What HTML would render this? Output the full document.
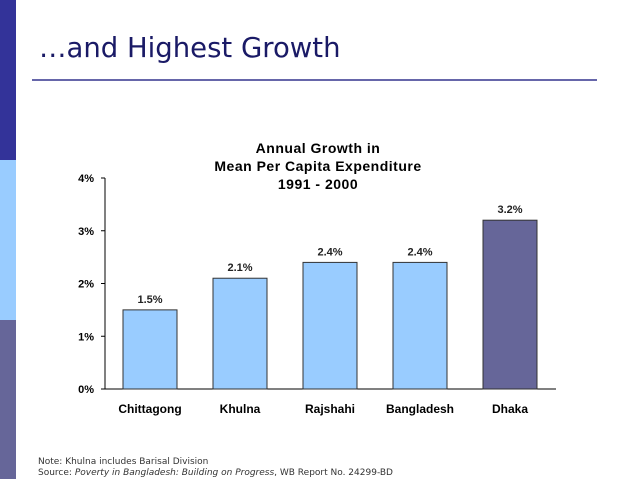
<!DOCTYPE html>
<html><head><meta charset="utf-8"><style>
body{margin:0;width:638px;height:479px;overflow:hidden;background:#fff;font-family:"Liberation Sans",sans-serif;position:relative}
.abs{position:absolute}
</style></head><body>
<div class="abs" style="left:0;top:0;width:16px;height:160px;background:#333399"></div>
<div class="abs" style="left:0;top:160px;width:16px;height:160px;background:#99ccff"></div>
<div class="abs" style="left:0;top:320px;width:16px;height:159px;background:#666699"></div>
<div class="abs" style="left:39px;top:32px;font-family:'DejaVu Sans',sans-serif;font-size:27.5px;color:#1a1a66">…and Highest Growth</div>
<div class="abs" style="left:32px;top:79px;width:565px;height:2px;background:#6666aa"></div>
<svg class="abs" style="left:0;top:0" width="638" height="479">
<g font-family="Liberation Sans, sans-serif" font-weight="bold" font-size="14" letter-spacing="0.5" text-anchor="middle" fill="#000">
<text x="318" y="153">Annual Growth in</text>
<text x="318" y="171">Mean Per Capita Expenditure</text>
<text x="318" y="189">1991 - 2000</text>
</g>
<g id="chart"></g>
</svg>
<div class="abs" style="left:38px;top:457px;font-family:'DejaVu Sans',sans-serif;font-size:9px;color:#333;line-height:11px">Note: Khulna includes Barisal Division<br>Source: <i>Poverty in Bangladesh: Building on Progress</i>, WB Report No. 24299-BD</div>
<script>
const categories=["Chittagong","Khulna","Rajshahi","Bangladesh","Dhaka"];
const values=[1.5,2.1,2.4,2.4,3.2];
const valueLabels=["1.5%","2.1%","2.4%","2.4%","3.2%"];
const ticks=[0,1,2,3,4];
const tickLabels=["0%","1%","2%","3%","4%"];
const NS="http://www.w3.org/2000/svg";
const g=document.getElementById('chart');
const y0=389,pxPer=52.75,axisX=105,slot=90,barW=54,firstX=123;
const yS=v=>y0-v*pxPer;
const xS=i=>firstX+i*slot;
function mk(t,a){const e=document.createElementNS(NS,t);for(const k in a)e.setAttribute(k,a[k]);g.appendChild(e);return e;}
let ax=mk('line',{x1:axisX,y1:yS(4),x2:axisX,y2:y0,stroke:'#000','stroke-width':1});


let xa=mk('line',{x1:axisX,y1:y0,x2:556,y2:y0,stroke:'#000','stroke-width':1});


ticks.forEach((t,i)=>{
 let l=mk('line',{x1:axisX-4,y1:yS(t),x2:axisX,y2:yS(t),stroke:'#000'});
 
 
 let tx=mk('text',{x:94,y:yS(t)+4,'text-anchor':'end','font-size':'11','font-weight':'bold','font-family':'Liberation Sans, sans-serif'});
 tx.textContent=tickLabels[i];
 
 
});
categories.forEach((c,i)=>{
 const x=xS(i),v=values[i];
 let r=mk('rect',{x:x,y:yS(v),width:barW,height:y0-yS(v),fill:i==4?'#666699':'#99ccff',stroke:'#333','stroke-width':1});
 
 
 let vl=mk('text',{x:x+barW/2,y:yS(v)-7,'text-anchor':'middle','font-size':'11','font-weight':'bold','font-family':'Liberation Sans, sans-serif',fill:'#222'});
 vl.textContent=valueLabels[i];
 
 
 let cl=mk('text',{x:x+barW/2,y:413,'text-anchor':'middle','font-size':'12','font-weight':'bold','font-family':'Liberation Sans, sans-serif'});
 cl.textContent=c;
 
 
});
</script>
</body></html>
